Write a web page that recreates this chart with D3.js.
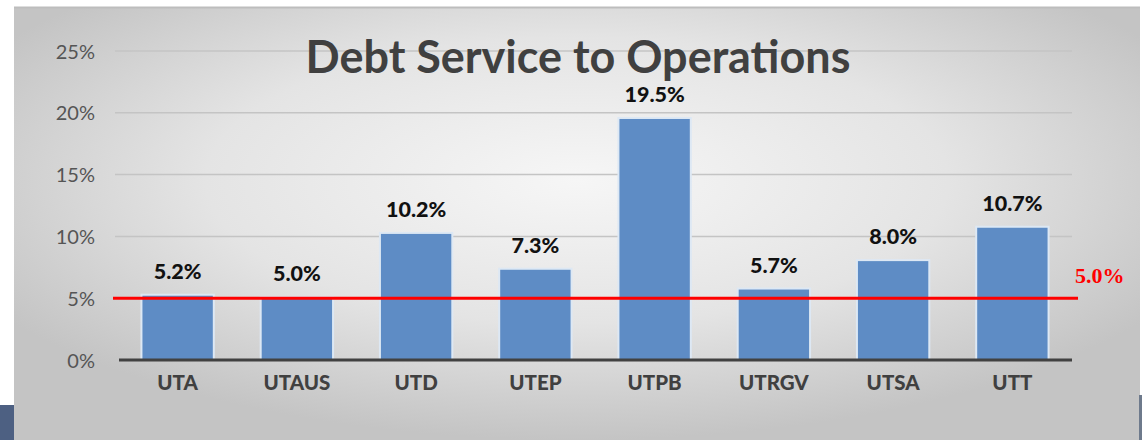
<!DOCTYPE html>
<html><head><meta charset="utf-8">
<script src="https://cdn.jsdelivr.net/npm/d3@7"></script>
<style>html,body{margin:0;padding:0;background:#fff;}svg{display:block;}</style>
</head><body>
<svg id="c" width="1142" height="440"></svg>
<script>
const categories = ["UTA","UTAUS","UTD","UTEP","UTPB","UTRGV","UTSA","UTT"];
const values = [5.2, 5.0, 10.2, 7.3, 19.5, 5.7, 8.0, 10.7];
const yTicks = [0, 5, 10, 15, 20, 25];
const threshold = 5.0;
const title = "Debt Service to Operations";

const svg = d3.select("#c");
const defs = svg.append("defs");
const rg = defs.append("radialGradient").attr("id","bg").attr("cx","50%").attr("cy","40%").attr("r","60%");
rg.append("stop").attr("offset","0%").attr("stop-color","#f6f6f6");
rg.append("stop").attr("offset","55%").attr("stop-color","#e4e4e4");
rg.append("stop").attr("offset","100%").attr("stop-color","#c4c4c4");

// panel
svg.append("rect").attr("x",14).attr("y",7).attr("width",1126).attr("height",433).attr("fill","url(#bg)");
svg.append("line").attr("x1",14).attr("x2",1140).attr("y1",7.5).attr("y2",7.5).attr("stroke","#bdbdbd").attr("stroke-width",2);
svg.append("rect").attr("x",0).attr("y",405).attr("width",14).attr("height",35).attr("fill","#4d6082");
svg.append("rect").attr("x",1139).attr("y",395).attr("width",3).attr("height",45).attr("fill","#6e7a8c");

const x = d3.scaleBand().domain(categories).range([118, 1072]).paddingInner(0.41).paddingOuter(0.205);
const y = d3.scaleLinear().domain([0, 25]).range([360, 51]);

// gridlines
svg.append("g").selectAll("line").data(yTicks.filter(d=>d>0)).join("line")
  .attr("x1",115).attr("x2",1072).attr("y1",d=>y(d)).attr("y2",d=>y(d))
  .attr("stroke","#c4c4c4").attr("stroke-width",1.5);

// y axis labels
const yAxis = d3.axisLeft(y).tickValues(yTicks).tickFormat(d=>d+"%").tickSize(0).tickPadding(0);
const ya = svg.append("g").attr("transform","translate(95,0)").call(yAxis);
ya.select(".domain").remove();
ya.selectAll("text").attr("font-family","Lato, 'Open Sans', sans-serif").attr("font-size",20).attr("fill","#555").attr("dy","0.35em");

// bars with halo
svg.append("g").selectAll("rect").data(values).join("rect")
  .attr("x",(d,i)=>x(categories[i])-2).attr("width",x.bandwidth()+4)
  .attr("y",d=>y(d)-2).attr("height",d=>y(0)-y(d)+2)
  .attr("fill","#dde8f4");
svg.append("g").selectAll("rect").data(values).join("rect")
  .attr("x",(d,i)=>x(categories[i])).attr("width",x.bandwidth())
  .attr("y",d=>y(d)).attr("height",d=>y(0)-y(d))
  .attr("fill","#5e8cc5");

// x axis
const xAxis = d3.axisBottom(x).tickSize(0).tickPadding(0);
const xa = svg.append("g").attr("transform",`translate(0,${y(0)})`).call(xAxis);
xa.select(".domain").remove();
svg.append("line").attr("x1",119).attr("x2",1072).attr("y1",y(0)).attr("y2",y(0)).attr("stroke","#414141").attr("stroke-width",3);
xa.selectAll("text").attr("font-family","Lato, 'Open Sans', sans-serif").attr("font-weight","900").attr("font-size",20.5).attr("fill","#404040").attr("dy","1.45em");

// value labels
svg.append("g").selectAll("text").data(values).join("text")
  .attr("x",(d,i)=>x(categories[i])+x.bandwidth()/2).attr("y",d=>y(d)-17)
  .attr("text-anchor","middle").attr("font-family","Lato, 'Open Sans', sans-serif").attr("font-weight","900").attr("font-size",21.5).attr("fill","#111")
  .text(d=>d.toFixed(1)+"%");

// threshold
svg.append("line").attr("x1",113).attr("x2",1078).attr("y1",y(threshold)).attr("y2",y(threshold)).attr("stroke","#ff0000").attr("stroke-width",3);
svg.append("text").attr("x",1075).attr("y",y(threshold)-15).attr("font-family","'Liberation Serif', 'Times New Roman', serif").attr("font-weight","bold").attr("font-size",22).attr("fill","#ff0000").text(threshold.toFixed(1)+"%");

// title
const t = svg.append("text").attr("x",578).attr("y",73).attr("text-anchor","middle")
  .attr("font-family","Lato, 'Open Sans', sans-serif").attr("font-weight","bold").attr("font-size",38).attr("fill","#404040").text(title);
const w = t.node().getComputedTextLength();
t.attr("font-size", 38*545/w);
</script>
</body></html>
